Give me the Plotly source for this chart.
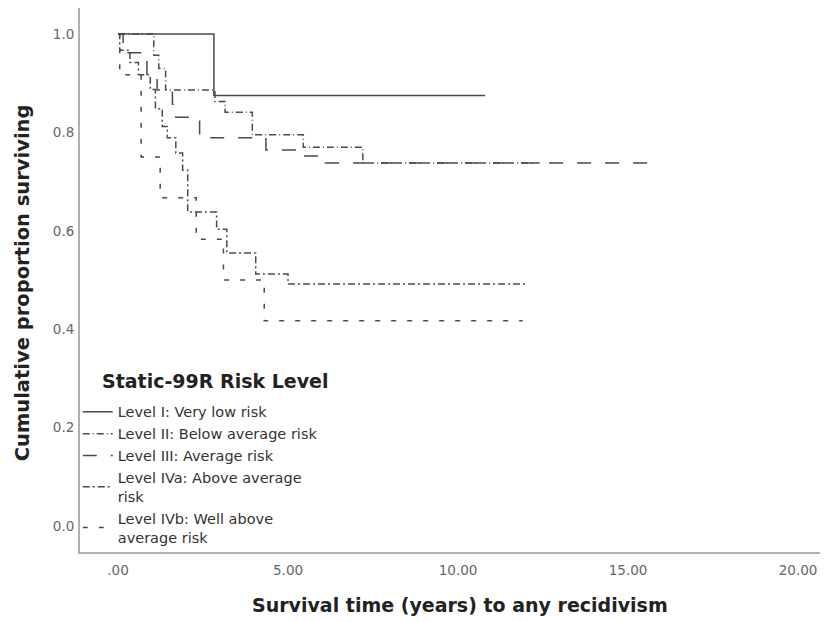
import plotly.graph_objects as go

# ---- data ----
series_names = [
    "Level I: Very low risk",
    "Level II: Below average risk",
    "Level III: Average risk",
    "Level IVa: Above average<br>risk",
    "Level IVb: Well above<br>average risk",
]

level1_t = [0, 2.82, 10.8]
level1_s = [1.0, 0.875, 0.875]

level2_t = [0, 1.05, 1.2, 1.4, 2.85, 3.15, 3.95, 5.45, 7.2, 12.4]
level2_s = [1.0, 0.957, 0.93, 0.886, 0.863, 0.841, 0.795, 0.770, 0.738, 0.738]

level3_t = [0, 0.15, 0.85, 1.15, 1.6, 1.7, 2.4, 4.35, 5.5, 6.1, 15.8]
level3_s = [1.0, 0.962, 0.918, 0.886, 0.857, 0.831, 0.789, 0.764, 0.752, 0.738, 0.738]

level4a_t = [0, 0.05, 0.35, 0.6, 0.95, 1.1, 1.3, 1.45, 1.7, 1.9, 2.05, 2.9, 3.2, 4.05, 5.0, 11.97]
level4a_s = [1.0, 0.967, 0.942, 0.917, 0.887, 0.848, 0.812, 0.789, 0.758, 0.723, 0.638, 0.603, 0.555, 0.512, 0.492, 0.492]

level4b_t = [0, 0.05, 0.68, 1.24, 2.3, 3.1, 4.3, 11.9]
level4b_s = [1.0, 0.917, 0.75, 0.667, 0.583, 0.5, 0.417, 0.417]

x_tickvals = [0, 5, 10, 15, 20]
x_ticktext = [".00", "5.00", "10.00", "15.00", "20.00"]
y_tickvals = [0.0, 0.2, 0.4, 0.6, 0.8, 1.0]
y_ticktext = ["0.0", "0.2", "0.4", "0.6", "0.8", "1.0"]

x_title = "Survival time (years) to any recidivism"
y_title = "Cumulative proportion surviving"
legend_title = "Static-99R Risk Level"

all_t = [level1_t, level2_t, level3_t, level4a_t, level4b_t]
all_s = [level1_s, level2_s, level3_s, level4a_s, level4b_s]
dashes = ["solid", "7px,3px,1px,3px", "14px,14px", "7px,3px,2px,3px", "5px,11px"]

line_color = "#4a4a4a"
font_family = "DejaVu Sans"

fig = go.Figure()
for name, t, s, d in zip(series_names, all_t, all_s, dashes):
    fig.add_trace(go.Scatter(
        x=t, y=s, mode="lines", name=name,
        line=dict(shape="hv", color=line_color, width=1.5, dash=d),
    ))

fig.update_layout(
    width=828, height=622,
    margin=dict(l=72, r=8, t=0, b=78),
    paper_bgcolor="white", plot_bgcolor="white",
    font=dict(family=font_family, color="#333333"),
    showlegend=True,
    legend=dict(
        x=-0.003, y=0.287, xanchor="left", yanchor="top",
        bgcolor="rgba(255,255,255,0)",
        font=dict(size=14.5, color="#333333", family=font_family),
        itemwidth=30,
        tracegroupgap=0,
    ),
    xaxis=dict(
        range=[-1.118, 20.88], automargin=False,
        tickvals=x_tickvals, ticktext=x_ticktext,
        tickfont=dict(size=13.5, color="#666666"),
        showgrid=False, zeroline=False,
        showline=True, linecolor="#b0b0b0", linewidth=2,
        ticks="", ticklabelstandoff=5,
    ),
    yaxis=dict(
        range=[-0.0528, 1.0528], automargin=False,
        tickvals=y_tickvals, ticktext=y_ticktext,
        tickfont=dict(size=13.5, color="#666666"),
        showgrid=False, zeroline=False,
        showline=True, linecolor="#b0b0b0", linewidth=2,
        ticks="", ticklabelstandoff=1,
    ),
    annotations=[
        dict(text="<b>" + x_title + "</b>", xref="paper", yref="paper",
             x=0.508, y=0, xanchor="center", yanchor="middle", yshift=-53,
             showarrow=False, font=dict(size=19, color="#222222")),
        dict(text="<b>" + y_title + "</b>", xref="paper", yref="paper",
             x=0, y=0.494, xanchor="center", yanchor="middle", xshift=-58,
             textangle=-90, showarrow=False, font=dict(size=19.5, color="#222222")),
        dict(text="<b>" + legend_title + "</b>", xref="paper", yref="paper",
             x=0.0267, y=0.314, xanchor="left", yanchor="middle",
             showarrow=False, font=dict(size=19, color="#222222")),
    ],
)

fig.write_html("out.html")
